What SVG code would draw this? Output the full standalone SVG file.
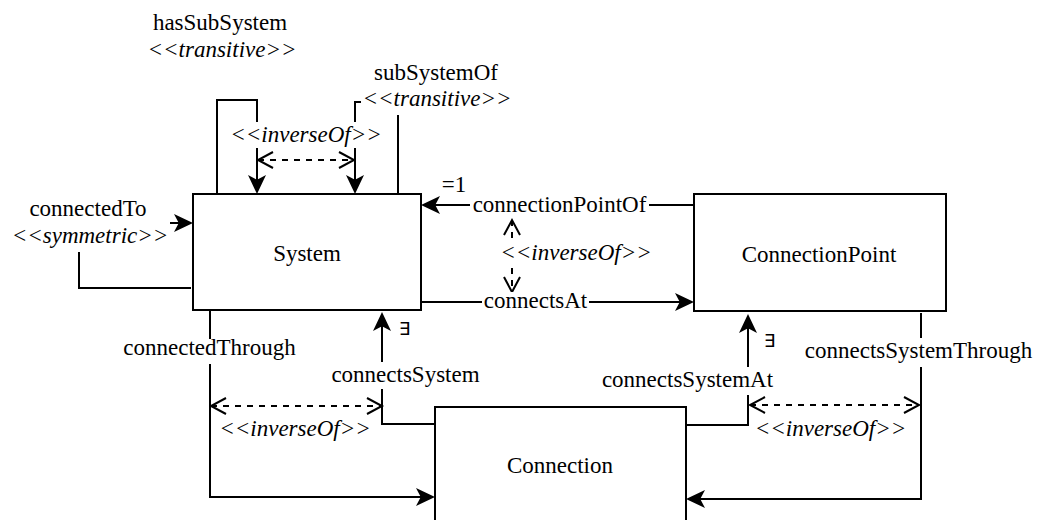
<svg xmlns="http://www.w3.org/2000/svg" width="1037" height="520" viewBox="0 0 1037 520">
<defs>
<style>
.box{fill:#fff;stroke:#000;stroke-width:2}
.ln{fill:none;stroke:#000;stroke-width:2}
.fa{marker-end:url(#arr)}
.ds{fill:none;stroke:#000;stroke-width:2;stroke-dasharray:6 6;marker-start:url(#open);marker-end:url(#open)}
.t{font-family:"Liberation Serif","Times New Roman",serif;font-size:23px;fill:#000;text-anchor:middle}
.i{font-style:italic}
.bg{fill:#fff;stroke:none}
.ex{font-family:"DejaVu Sans",sans-serif;font-size:18px;fill:#000}
</style>
<marker id="arr" markerUnits="userSpaceOnUse" viewBox="0 0 20 20" markerWidth="20" markerHeight="20" refX="9" refY="10" orient="auto">
<path d="M19,10 L0,1 L4.75,10 L0,19 Z" fill="#000"/>
</marker>
<marker id="open" markerUnits="userSpaceOnUse" viewBox="0 0 20 20" markerWidth="20" markerHeight="20" refX="17" refY="10" orient="auto-start-reverse">
<path d="M2,2 L17,10 L2,18" fill="none" stroke="#000" stroke-width="2"/>
</marker>
</defs>
<rect width="1037" height="520" fill="#fff"/>

<g id="connectors">
<path class="ln fa" d="M217,194 V100 H257 V184"/>
<path class="ln fa" d="M398,194 V102 H355 V184"/>
<path class="ds" d="M258,160 H354"/>
<path class="ln fa" d="M191,288 H79 V223 H183"/>
<path class="ln fa" d="M694,205 H431"/>
<path class="ln fa" d="M421,302 H684"/>
<path class="ds" d="M512,220 V292"/>
<path class="ln fa" d="M210,310 V497 H425"/>
<path class="ds" d="M211,406 H382"/>
<path class="ln fa" d="M435,424 H382 V322"/>
<path class="ln fa" d="M686,425 H748 V324"/>
<path class="ln fa" d="M921,313 V499 H696"/>
<path class="ds" d="M750,405 H919"/>
</g>

<g id="edge-labels">
<g id="lbl-hasSubSystem">
<text class="t" x="220" y="30">hasSubSystem</text>
<text class="t i" x="222" y="57">&lt;&lt;transitive&gt;&gt;</text>
</g>
<g id="lbl-subSystemOf">
<rect class="bg" x="361" y="88" width="152" height="27"/>
<text class="t" x="436" y="80">subSystemOf</text>
<text class="t i" x="437" y="106">&lt;&lt;transitive&gt;&gt;</text>
</g>
<g id="lbl-inverse-top">
<rect class="bg" x="231" y="122" width="150" height="26"/>
<text class="t i" x="306" y="142">&lt;&lt;inverseOf&gt;&gt;</text>
</g>
<g id="lbl-connectedTo">
<rect class="bg" x="8" y="197" width="162" height="55"/>
<text class="t" x="88" y="216">connectedTo</text>
<text class="t i" x="90" y="243">&lt;&lt;symmetric&gt;&gt;</text>
</g>
<g id="lbl-connectionPointOf">
<rect class="bg" x="470" y="195" width="179" height="22"/>
<text class="t" x="559.5" y="212">connectionPointOf</text>
<text class="t" x="454" y="192">=1</text>
</g>
<g id="lbl-inverse-mid">
<rect class="bg" x="500" y="242" width="152" height="26"/>
<text class="t i" x="576" y="260">&lt;&lt;inverseOf&gt;&gt;</text>
</g>
<g id="lbl-connectsAt">
<rect class="bg" x="482" y="292" width="107" height="20"/>
<text class="t" x="535.5" y="308">connectsAt</text>
</g>
<g id="lbl-connectedThrough">
<rect class="bg" x="119" y="339" width="181" height="25"/>
<text class="t" x="209.5" y="355">connectedThrough</text>
</g>
<g id="lbl-inverse-left">
<text class="t i" x="295" y="436">&lt;&lt;inverseOf&gt;&gt;</text>
</g>
<g id="lbl-connectsSystem">
<rect class="bg" x="330" y="362" width="152" height="27"/>
<text class="t" x="405.5" y="382">connectsSystem</text>
<text class="ex" x="399" y="335">∃</text>
</g>
<g id="lbl-connectsSystemAt">
<rect class="bg" x="600" y="367" width="175" height="28"/>
<text class="t" x="687.5" y="387">connectsSystemAt</text>
<text class="ex" x="764" y="347">∃</text>
</g>
<g id="lbl-connectsSystemThrough">
<rect class="bg" x="801" y="338" width="235" height="29"/>
<text class="t" x="918.5" y="358">connectsSystemThrough</text>
</g>
<g id="lbl-inverse-right">
<text class="t i" x="830.5" y="436">&lt;&lt;inverseOf&gt;&gt;</text>
</g>
</g>

<g id="node-System">
<rect class="box" x="193" y="194" width="228" height="116"/>
<text class="t" x="307" y="261">System</text>
</g>
<g id="node-ConnectionPoint">
<rect class="box" x="694" y="194" width="252" height="117"/>
<text class="t" x="819" y="262">ConnectionPoint</text>
</g>
<g id="node-Connection">
<rect class="box" x="435" y="407" width="251" height="118"/>
<text class="t" x="560" y="473">Connection</text>
</g>
</svg>
